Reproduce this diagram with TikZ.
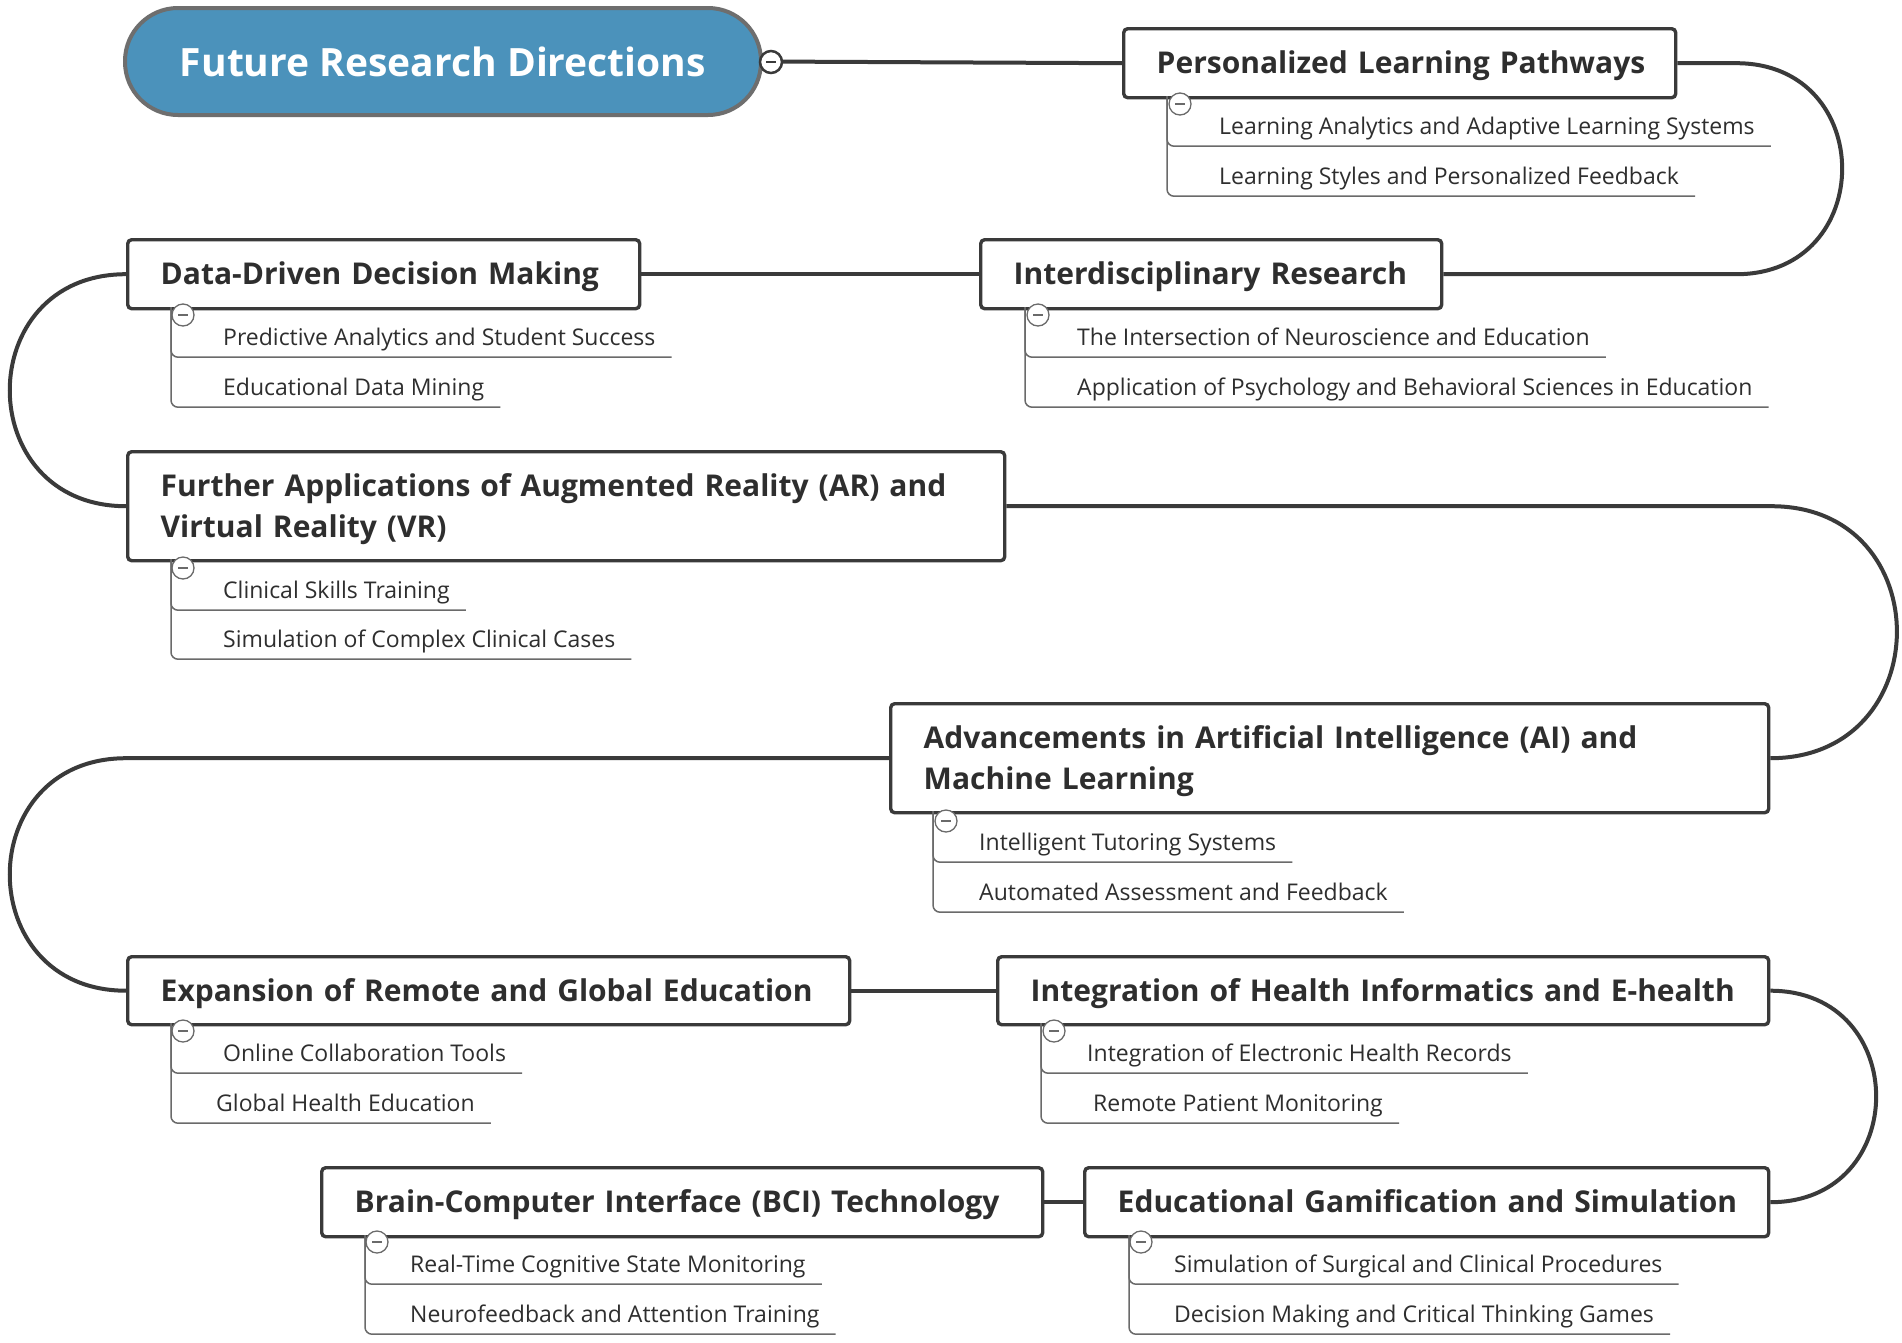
\documentclass[tikz,border=0pt]{standalone}
\usepackage{fontspec}
\setmainfont{Open Sans}
\definecolor{rootblue}{HTML}{4B92BB}
\definecolor{rootedge}{HTML}{6E6E6E}
\definecolor{ink}{HTML}{2E2E2E}
\definecolor{boxedge}{HTML}{3A3A3A}
\definecolor{ulgray}{HTML}{6A6A6A}
\begin{document}
\begin{tikzpicture}[x=1pt,y=-1pt,
  root/.style={draw=rootedge, fill=rootblue, line width=4pt, rounded corners=53pt,
    minimum width=636pt, minimum height=107pt, text=white,
    font=\fontsize{39}{45}\selectfont\bfseries},
  box/.style={draw=boxedge, line width=3.4pt, rounded corners=4pt, fill=white, text=ink,
    font=\fontsize{30}{41}\selectfont\bfseries, align=left, inner xsep=33pt, inner ysep=0pt,
    text height=28pt, text depth=6.6pt,
    minimum height=69pt, text width=#1, anchor=north west},
  twoline/.style={minimum height=109pt, text height=28pt, text depth=47.6pt},
  sub/.style={text=ink, font=\fontsize{23}{27}\selectfont, inner xsep=16pt, inner ysep=9.5pt,
    text height=19pt, text depth=2pt, anchor=west},
  ul/.style={draw=ulgray, line width=1.5pt, rounded corners=7pt},
  conn/.style={draw=boxedge, line width=4pt},
  mn/.style={circle, draw=ulgray, fill=white, line width=1.3pt, minimum size=22pt, inner sep=0pt,
    path picture={\draw[line width=1.2pt, ulgray] ([xshift=-5pt]path picture bounding box.center) -- ([xshift=5pt]path picture bounding box.center);}},
  rootmn/.style={circle, draw=boxedge, fill=white, line width=2.5pt, minimum size=22pt, inner sep=0pt,
    path picture={\draw[line width=2pt, boxedge] ([xshift=-5pt]path picture bounding box.center) -- ([xshift=5pt]path picture bounding box.center);}}
]
\useasboundingbox (0,0) rectangle (1902,1342);
\fill[white] (0,0) rectangle (1902,1342);

% main boxes (text width = box width - 66pt)
\node[root] (root) at (443,61.5) {Future Research Directions};
\node[box=486pt] (plp) at (1122,27) {\mbox{Personalized Learning Pathways}};
\node[box=395pt] (ir) at (979,238) {\mbox{Interdisciplinary Research}};
\node[box=446pt] (ddm) at (126,238) {\mbox{Data-Driven Decision Making}};
\node[box=811pt, twoline] (ar) at (126,450) {\mbox{Further Applications of Augmented Reality (AR) and}\\\mbox{Virtual Reality (VR)}};
\node[box=812pt, twoline] (ai) at (889,702) {\mbox{Advancements in Artificial Intelligence (AI) and}\\\mbox{Machine Learning}};
\node[box=656pt, minimum height=68pt] (exp) at (126,955) {\mbox{Expansion of Remote and Global Education}};
\node[box=705pt, minimum height=68pt] (hi) at (996,955) {\mbox{Integration of Health Informatics and E-health}};
\node[box=618pt] (gam) at (1083,1166) {\mbox{Educational Gamification and Simulation}};
\node[box=655pt] (bci) at (320,1166) {\mbox{Brain-Computer Interface (BCI) Technology}};

% connectors
\draw[conn] (root.east) -- (plp.west);
\draw[conn] (plp.east) -- ++(59,0) to[out=0,in=0,distance=141pt] ([xshift=293pt]ir.east) -- (ir.east);
\draw[conn] (ir.west) -- (ddm.east);
\draw[conn] (ddm.west) to[out=180,in=180,distance=155pt] (ar.west);
\draw[conn] (ar.east) -- ([xshift=1pt]ai.east |- ar.east) to[out=0,in=0,distance=168pt] (ai.east);
\draw[conn] (ai.west) -- (exp.west |- ai.west) to[out=180,in=180,distance=155pt] (exp.west);
\draw[conn] (exp.east) -- (hi.west);
\draw[conn] (hi.east) to[out=0,in=0,distance=141pt] (gam.east);
\draw[conn] (gam.west) -- (bci.east);
\node[rootmn] (root-m) at (771,62) {};

% Personalized Learning Pathways
\coordinate (plp-b) at (1167,96);
\node[sub] (plp1) at (1203,126) {Learning Analytics and Adaptive Learning Systems};
\node[sub] (plp2) at (1203,176) {Learning Styles and Personalized Feedback};
\draw[ul] (plp-b) |- (plp1.south east);
\draw[ul] (plp-b) |- (plp2.south east);
\node[mn] (plp-m) at (1180,104) {};

% Interdisciplinary Research
\coordinate (ir-b) at (1025,307);
\node[sub] (ir1) at (1061,337) {The Intersection of Neuroscience and Education};
\node[sub] (ir2) at (1061,387) {Application of Psychology and Behavioral Sciences in Education};
\draw[ul] (ir-b) |- (ir1.south east);
\draw[ul] (ir-b) |- (ir2.south east);
\node[mn] (ir-m) at (1038,315) {};

% Data-Driven Decision Making
\coordinate (ddm-b) at (171,307);
\node[sub] (ddm1) at (207,337) {Predictive Analytics and Student Success};
\node[sub] (ddm2) at (207,387) {Educational Data Mining};
\draw[ul] (ddm-b) |- (ddm1.south east);
\draw[ul] (ddm-b) |- (ddm2.south east);
\node[mn] (ddm-m) at (183,315) {};

% AR / VR
\coordinate (ar-b) at (171,559);
\node[sub] (ar1) at (207,590) {Clinical Skills Training};
\node[sub] (ar2) at (207,639) {Simulation of Complex Clinical Cases};
\draw[ul] (ar-b) |- (ar1.south east);
\draw[ul] (ar-b) |- (ar2.south east);
\node[mn] (ar-m) at (183,568) {};

% AI / ML
\coordinate (ai-b) at (933,811);
\node[sub] (ai1) at (963,842) {Intelligent Tutoring Systems};
\node[sub] (ai2) at (963,892) {Automated Assessment and Feedback};
\draw[ul] (ai-b) |- (ai1.south east);
\draw[ul] (ai-b) |- (ai2.south east);
\node[mn] (ai-m) at (946,821) {};

% Expansion of Remote and Global Education
\coordinate (exp-b) at (171,1023);
\node[sub] (exp1) at (207,1053) {Online Collaboration Tools};
\node[sub] (exp2) at (200,1103) {Global Health Education};
\draw[ul] (exp-b) |- (exp1.south east);
\draw[ul] (exp-b) |- (exp2.south east);
\node[mn] (exp-m) at (183,1031) {};

% Health Informatics
\coordinate (hi-b) at (1041,1023);
\node[sub] (hi1) at (1071,1053) {Integration of Electronic Health Records};
\node[sub] (hi2) at (1077,1103) {Remote Patient Monitoring};
\draw[ul] (hi-b) |- (hi1.south east);
\draw[ul] (hi-b) |- (hi2.south east);
\node[mn] (hi-m) at (1054,1031) {};

% Gamification
\coordinate (gam-b) at (1129,1235);
\node[sub] (gam1) at (1158,1264) {Simulation of Surgical and Clinical Procedures};
\node[sub] (gam2) at (1158,1314) {Decision Making and Critical Thinking Games};
\draw[ul] (gam-b) |- (gam1.south east);
\draw[ul] (gam-b) |- (gam2.south east);
\node[mn] (gam-m) at (1141,1242) {};

% BCI
\coordinate (bci-b) at (365,1235);
\node[sub] (bci1) at (394,1264) {Real-Time Cognitive State Monitoring};
\node[sub] (bci2) at (394,1314) {Neurofeedback and Attention Training};
\draw[ul] (bci-b) |- (bci1.south east);
\draw[ul] (bci-b) |- (bci2.south east);
\node[mn] (bci-m) at (377,1242) {};
\end{tikzpicture}
\end{document}
